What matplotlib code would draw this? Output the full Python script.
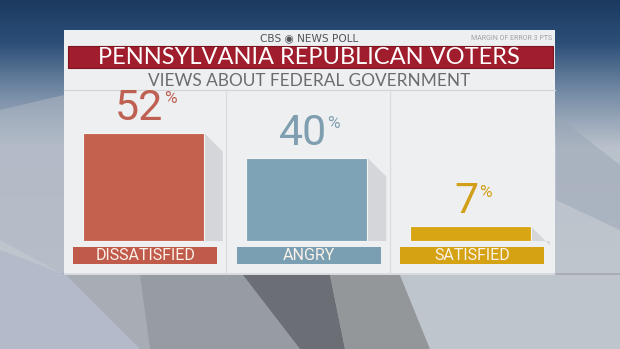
import numpy as np
import matplotlib
matplotlib.use("Agg")
import matplotlib.pyplot as plt
from matplotlib.patches import Rectangle, Polygon
from matplotlib.colors import LinearSegmentedColormap

# ---- data ----
categories = ["DISSATISFIED", "ANGRY", "SATISFIED"]
values = [52, 40, 7]
bar_colors = ["#c4614e", "#7fa3b6", "#d8a615"]
band_colors = ["#c05a4a", "#7b9fb2", "#d4a212"]
value_colors = ["#bf6152", "#7f9fb0", "#d2a018"]
title = "PENNSYLVANIA REPUBLICAN VOTERS"
subtitle = "VIEWS ABOUT FEDERAL GOVERNMENT"
poll_label = "CBS \u25c9 NEWS POLL"
margin_note = "MARGIN OF ERROR 3 PTS"

W, H = 620, 349
fig = plt.figure(figsize=(W / 100, H / 100), dpi=100)

# ---- background (pixel space) ----
bg = fig.add_axes([0, 0, 1, 1])
bg.set_xlim(0, W)
bg.set_ylim(H, 0)
bg.axis("off")
cmap = LinearSegmentedColormap.from_list(
    "bgv", [(0.0, "#1c3a60"), (0.12, "#2c4f78"), (0.25, "#6f86a2"),
            (0.42, "#b9c1cb"), (1.0, "#c4c9cf")])
grad = np.linspace(0, 1, 200).reshape(-1, 1) * np.ones((1, 2))
bg.imshow(grad, cmap=cmap, extent=[0, W, H, 0], aspect="auto", zorder=0)
bg.add_patch(Polygon([(0, 110), (64, 95), (64, 275), (0, 240)],
                     closed=True, color="#aeb7c4", alpha=0.55, lw=0, zorder=1))
bg.add_patch(Polygon([(556, 115), (620, 165), (620, 230), (556, 200)],
                     closed=True, color="#9aa6b5", alpha=0.5, lw=0, zorder=1))
bg.add_patch(Polygon([(0, 273), (620, 273), (620, 349), (0, 349)],
                     closed=True, color="#a8adb5", lw=0, zorder=1))
bg.add_patch(Polygon([(0, 250), (66, 275), (140, 349), (0, 349)],
                     closed=True, color="#b3bbca", lw=0, zorder=1))
bg.add_patch(Polygon([(140, 275), (243, 275), (300, 349), (150, 349)],
                     closed=True, color="#979ba2", lw=0, zorder=1))
bg.add_patch(Polygon([(243, 275), (330, 275), (345, 349), (300, 349)],
                     closed=True, color="#6b6e74", lw=0, zorder=1))
bg.add_patch(Polygon([(330, 275), (400, 275), (430, 349), (345, 349)],
                     closed=True, color="#939799", lw=0, zorder=1))
bg.add_patch(Polygon([(400, 275), (620, 275), (620, 349), (430, 349)],
                     closed=True, color="#bfc5cc", lw=0, zorder=1))

# panel
bg.add_patch(Rectangle((64, 30), 491, 243, color="#eeeff1", lw=0, zorder=2))
bg.add_patch(Rectangle((64, 273), 491, 2, color="#d8dadd", lw=0, zorder=2))
# red title band
bg.add_patch(Rectangle((67.5, 45.5), 485, 22.5, facecolor="#9f1d2c",
                       edgecolor="#7d1520", lw=0.8, zorder=3))
bg.text(309, 57.5, title, ha="center", va="center", color="white",
        fontsize=17, family="Lato", fontweight="normal", zorder=4)
bg.text(309, 81, subtitle, ha="center", va="center", color="#6a6c70",
        fontsize=12.4, family="Lato", fontweight="normal", zorder=4)
bg.text(309, 38.5, poll_label, ha="center", va="center", color="#505358",
        fontsize=7.6, family="DejaVu Sans", zorder=4)
bg.text(552, 38.5, margin_note, ha="right", va="center", color="#a0a2a6",
        fontsize=5, family="Roboto", zorder=4)
bg.plot([64, 555], [89.5, 89.5], color="#d2d5d9", lw=0.9, zorder=3)
for xs in (225.7, 390):
    bg.plot([xs, xs], [89.5, 273], color="#d9dbde", lw=0.9, zorder=3)

# ---- bar axes ----
ax = fig.add_axes([61.5 / W, (H - 274.3) / H, 490.5 / W, 178.9 / H])
ax.set_xlim(-0.5, 2.5)
ax.set_ylim(-16, 70)
ax.axis("off")
ax.patch.set_alpha(0)

x = np.arange(len(categories))
bw = 0.743
for xi, v in zip(x, values):
    xr = xi + bw / 2
    ax.add_patch(Polygon([(xr, v), (xr + 0.115, v - 9), (xr + 0.115, 0), (xr, 0)],
                         closed=True, color="#d4d6d9", lw=0, zorder=1))
ax.bar(x, values, width=bw, color=bar_colors, edgecolor="#f4f4f4",
       linewidth=0.8, zorder=2)
ax.bar(x + 0.012, [8.3] * 3, bottom=-11.1, width=0.883, color=band_colors,
       linewidth=0, zorder=2)
for xi, lab in zip(x, categories):
    ax.text(xi + 0.012, -6.9, lab, ha="center", va="center", color="#fbf3ea",
            fontsize=11.5, family="Roboto", fontweight="normal", zorder=3)
for xi, v, c in zip(x, values, value_colors):
    ax.annotate(str(v), (xi, v), xytext=(-3, 3), textcoords="offset points",
                ha="center", va="bottom", color=c, fontsize=31,
                family="Roboto", fontweight="normal", zorder=3)
    ndig = len(str(v))
    ax.annotate("%", (xi, v), xytext=(-3 + ndig * 8.6 + 0.8, 30),
                textcoords="offset points", ha="left", va="top", color=c,
                fontsize=12.5, family="Roboto", fontweight="normal", zorder=3)

fig.savefig("out.png", dpi=100)
